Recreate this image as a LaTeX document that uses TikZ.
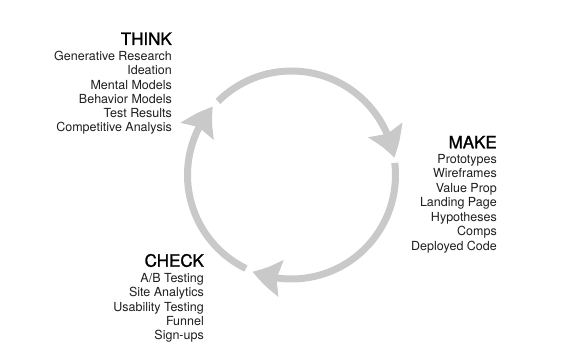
\documentclass[tikz,border=0pt]{standalone}
\usepackage{fontspec}
\setmainfont{TeX Gyre Heros}
\newfontfamily\phasefont[FakeBold=1.3]{TeX Gyre Heros}
\usepackage{xcolor}
\usepackage{tikz}
\usetikzlibrary{arrows.meta,bending,positioning}

\definecolor{loopgray}{RGB}{200,201,200}
\definecolor{itemtext}{RGB}{30,30,30}

\begin{document}
\begin{tikzpicture}[
      x=1pt,y=1pt,
      phase/.style={anchor=base east,inner sep=0pt,font=\phasefont\fontsize{17}{18}\selectfont},
      item/.style={anchor=base east,inner sep=0pt,text=itemtext,font=\fontsize{12.5}{14}\selectfont},
      loop/.style={draw=loopgray,line width=7pt,
            -{Stealth[length=29pt,width=36pt,inset=4pt,bend]}}
]
\useasboundingbox (0,0) rectangle (587,-355);
\coordinate (hub) at (291.5,-175);

% the three arcs of the cycle
\foreach \s/\e in {135/9.5,6.7/-112,-116/-221} {
      \draw[loop] ([shift={(\s:104)}]hub) arc[start angle=\s,end angle=\e,radius=104];
}

\node[phase] (think) at (172,-45) {THINK};
\foreach \txt [count=\i] in {Generative Research,Ideation,Mental Models,Behavior Models,Test Results,Competitive Analysis} {
      \node[item] (think\i) at (172,-60.7-14.2*\i+14.2) {\txt};
}

\node[phase] (make) at (497,-148.3) {MAKE};
\foreach \txt [count=\i] in {Prototypes,Wireframes,Value Prop,Landing Page,Hypotheses,Comps,Deployed Code} {
      \node[item] (make\i) at (497,-163.3-14.5*\i+14.5) {\txt};
}

\node[phase] (check) at (204,-266.7) {CHECK};
\foreach \txt [count=\i] in {A/B Testing,Site Analytics,Usability Testing,Funnel,Sign-ups} {
      \node[item] (check\i) at (204,-282.3-14.4*\i+14.4) {\txt};
}
\end{tikzpicture}
\end{document}
